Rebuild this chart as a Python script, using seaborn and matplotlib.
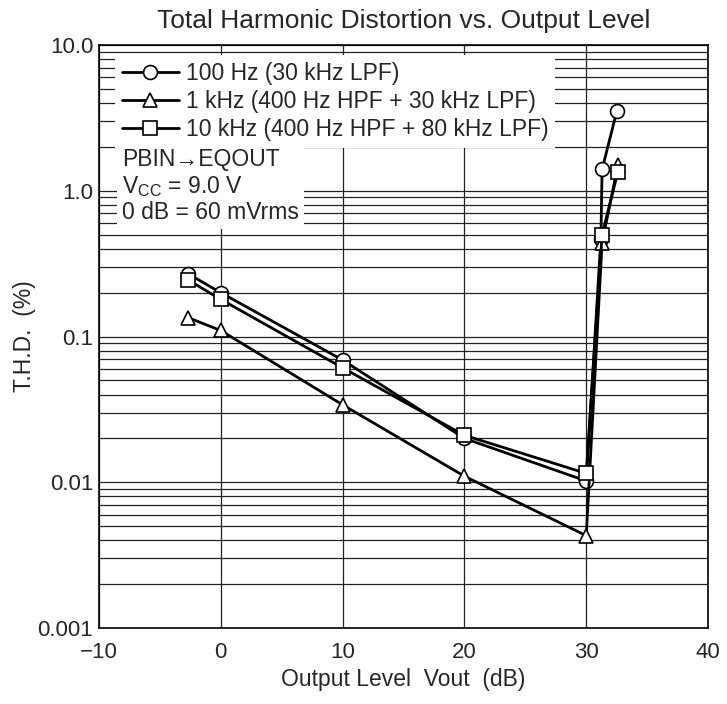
import numpy as np
import pandas as pd
import matplotlib
matplotlib.use("Agg")
import matplotlib.pyplot as plt
import seaborn as sns
from matplotlib.ticker import FixedLocator, FixedFormatter, LogLocator, NullFormatter

# data
x_100hz = [-2.7, 0, 10, 20, 30, 31.2, 31.3, 32.5]
thd_100hz = [0.27, 0.20, 0.069, 0.020, 0.0102, 0.47, 1.40, 3.5]
x_1khz = [-2.7, 0, 10, 20, 30, 31.3, 32.6]
thd_1khz = [0.135, 0.11, 0.034, 0.011, 0.0043, 0.44, 1.5]
x_10khz = [-2.7, 0, 10, 20, 30, 31.3, 32.6]
thd_10khz = [0.245, 0.18, 0.061, 0.021, 0.0115, 0.50, 1.35]
labels = ["100 Hz (30 kHz LPF)", "1 kHz (400 Hz HPF + 30 kHz LPF)", "10 kHz (400 Hz HPF + 80 kHz LPF)"]
markers = ["o", "^", "s"]

ytick_vals = [0.001, 0.01, 0.1, 1.0, 10.0]
ytick_labels = ["0.001", "0.01", "0.1", "1.0", "10.0"]

frames = []
for lab, xs, ys in zip(labels, [x_100hz, x_1khz, x_10khz], [thd_100hz, thd_1khz, thd_10khz]):
    frames.append(pd.DataFrame({"x": xs, "thd": ys, "series": lab}))
df = pd.concat(frames, ignore_index=True)

sns.set_style("white")
plt.rcParams["font.family"] = ["Liberation Sans", "DejaVu Sans"]
plt.rcParams["mathtext.fontset"] = "custom"
plt.rcParams["mathtext.rm"] = "Liberation Sans"
plt.rcParams["mathtext.it"] = "Liberation Sans:italic"

fig = plt.figure(figsize=(7.27, 7.04), dpi=100)
ax = fig.add_axes([0.136, 0.108, 0.838, 0.828])

sns.lineplot(data=df, x="x", y="thd", style="series", hue="series",
             palette=["black"] * 3, markers=dict(zip(labels, markers)), dashes=False,
             sort=False, estimator=None, linewidth=2.0, markersize=10,
             markerfacecolor="white", markeredgecolor="black", markeredgewidth=1.2,
             ax=ax, zorder=5)

ax.set_yscale("log")
ax.set_xlim(-10, 40)
ax.set_ylim(0.001, 10)
ax.set_xticks([-10, 0, 10, 20, 30, 40])
ax.yaxis.set_major_locator(FixedLocator(ytick_vals))
ax.yaxis.set_major_formatter(FixedFormatter(ytick_labels))
ax.yaxis.set_minor_locator(LogLocator(base=10, subs=np.arange(2, 10)))
ax.yaxis.set_minor_formatter(NullFormatter())
ax.tick_params(which="both", length=0, labelsize=16)
ax.tick_params(axis="x", pad=10)
ax.tick_params(axis="y", pad=4)

ax.grid(True, which="major", axis="both", color="#222222", linewidth=0.9)
ax.grid(True, which="minor", axis="y", color="#222222", linewidth=0.9)
ax.set_axisbelow(True)
for s in ax.spines.values():
    s.set_color("black")
    s.set_linewidth(1.2)

ax.set_title("Total Harmonic Distortion vs. Output Level", fontsize=19, pad=12)
ax.set_xlabel("Output Level  Vout  (dB)", fontsize=16.5, labelpad=4)
ax.set_ylabel("T.H.D.  (%)", fontsize=16.5, labelpad=1)

leg = ax.legend(loc="upper left", bbox_to_anchor=(0.026, 0.983), fontsize=16.5, frameon=True,
                facecolor="white", edgecolor="none", framealpha=1, handlelength=2.5,
                handletextpad=0.3, borderaxespad=0, borderpad=0.3, labelspacing=0.22,
                fancybox=False)
leg.set_zorder(10)

ax.text(0.038, 0.823, "PBIN\u2192EQOUT\nV$_\\mathrm{CC}$ = 9.0 V\n0 dB = 60 mVrms",
        transform=ax.transAxes, fontsize=16.5, va="top", ha="left", linespacing=1.13,
        bbox=dict(facecolor="white", edgecolor="none", pad=4), zorder=10)

fig.savefig("out.png", dpi=100)
